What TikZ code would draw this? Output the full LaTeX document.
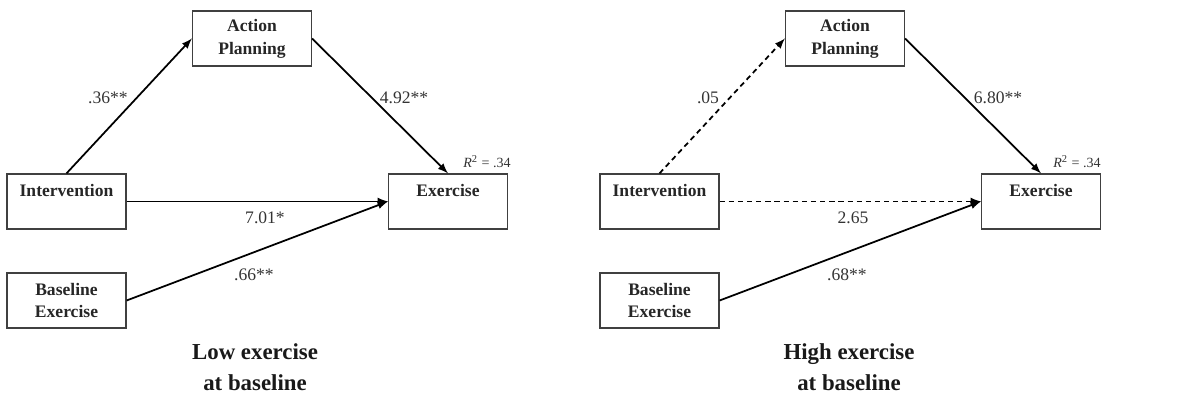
\documentclass[tikz,border=0pt]{standalone}
\usepackage{fontspec}
\setmainfont{Liberation Serif}
\usetikzlibrary{positioning,arrows}

\begin{document}
\begin{tikzpicture}[
  x=0.02cm, y=-0.02cm,
  box/.style={draw=black!75,line width=0.7pt,minimum width=2.38cm,minimum height=1.1cm,inner sep=0pt,align=center,text=black!85,font=\bfseries\fontsize{10}{13}\selectfont},
  lbl/.style={inner sep=0pt,text=black!80,font=\fontsize{10}{12}\selectfont},
  rsq/.style={inner sep=0pt,text=black!80,font=\fontsize{8}{10}\selectfont},
  ttl/.style={align=center,text=black!90,font=\bfseries\fontsize{13}{17.6}\selectfont},
  link/.style={-latex,line width=1pt},
  nslink/.style={link,dash pattern=on 3pt off 2.2pt}
]
\useasboundingbox (0,0) rectangle (1180,398);

% low exercise at baseline
\node[box] (AP) at (252,38.5) {Action\\Planning};
\node[box] (Int) at (66.5,201.5) {Intervention\\\mbox{}};
\node[box] (Ex) at (448,201.5) {Exercise\\\mbox{}};
\node[box] (BE) at (66.5,300.5) {Baseline\\Exercise};
\draw[link] (Int.north) -- (AP.west);
\draw[link] (AP.east) -- (Ex.north);
\draw[link] (Int.east) -- (Ex.west);
\draw[link] (BE.east) -- (Ex.west);
\node[lbl] (a1) at (108,98) {.36**};
\node[lbl] (b1) at (404,98) {4.92**};
\node[lbl] (c1) at (265,218) {7.01*};
\node[lbl] (d1) at (254,275) {.66**};
\node[rsq] (r1) at (487,162) {\textit{R}\textsuperscript{2} = .34};
\node[ttl] (T1) at (255,367.5) {Low exercise\\at baseline};

% high exercise at baseline
\begin{scope}[shift={(593,0)}]
\node[box] (AP2) at (252,38.5) {Action\\Planning};
\node[box] (Int2) at (66.5,201.5) {Intervention\\\mbox{}};
\node[box] (Ex2) at (448,201.5) {Exercise\\\mbox{}};
\node[box] (BE2) at (66.5,300.5) {Baseline\\Exercise};
\draw[nslink] (Int2.north) -- (AP2.west);
\draw[link] (AP2.east) -- (Ex2.north);
\draw[nslink] (Int2.east) -- (Ex2.west);
\draw[link] (BE2.east) -- (Ex2.west);
\node[lbl] (a2) at (115,98) {.05};
\node[lbl] (b2) at (405,98) {6.80**};
\node[lbl] (c2) at (260,218) {2.65};
\node[lbl] (d2) at (254,275) {.68**};
\node[rsq] (r2) at (484,162) {\textit{R}\textsuperscript{2} = .34};
\node[ttl] (T2) at (256,367.5) {High exercise\\at baseline};
\end{scope}
\end{tikzpicture}
\end{document}
